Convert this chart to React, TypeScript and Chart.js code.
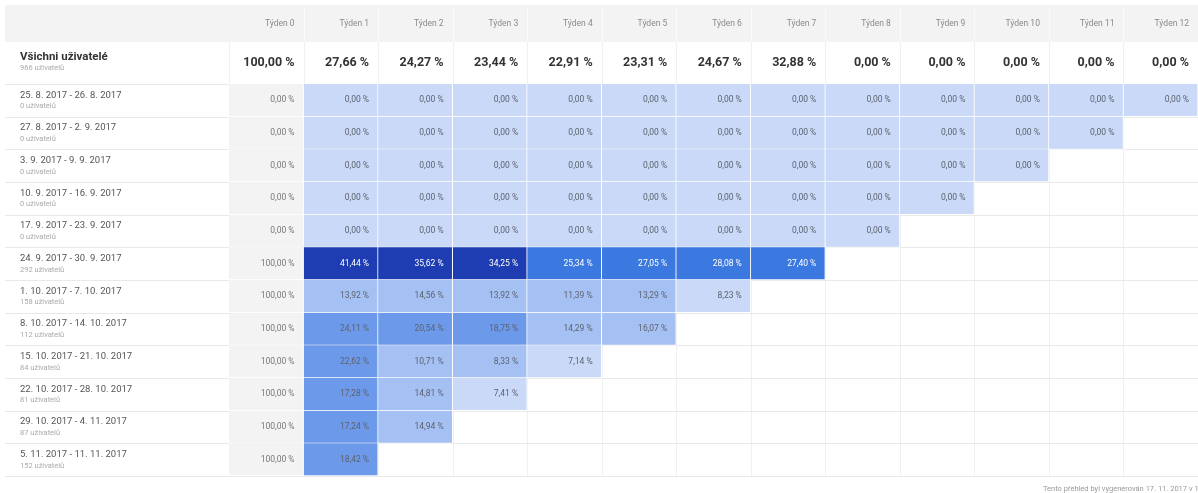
import React, { useEffect, useRef } from 'react';
import { Chart, registerables } from 'chart.js';

Chart.register(...registerables);

const WEEK_LABELS = ['Týden 0', 'Týden 1', 'Týden 2', 'Týden 3', 'Týden 4', 'Týden 5', 'Týden 6', 'Týden 7', 'Týden 8', 'Týden 9', 'Týden 10', 'Týden 11', 'Týden 12'];

const ALL_LABEL = 'Všichni uživatelé';
const ALL_USERS = '966 uživatelů';
const ALL_VALUES = [100, 27.66, 24.27, 23.44, 22.91, 23.31, 24.67, 32.88, 0, 0, 0, 0, 0];

const COHORT_LABELS = [
  '25. 8. 2017 - 26. 8. 2017',
  '27. 8. 2017 - 2. 9. 2017',
  '3. 9. 2017 - 9. 9. 2017',
  '10. 9. 2017 - 16. 9. 2017',
  '17. 9. 2017 - 23. 9. 2017',
  '24. 9. 2017 - 30. 9. 2017',
  '1. 10. 2017 - 7. 10. 2017',
  '8. 10. 2017 - 14. 10. 2017',
  '15. 10. 2017 - 21. 10. 2017',
  '22. 10. 2017 - 28. 10. 2017',
  '29. 10. 2017 - 4. 11. 2017',
  '5. 11. 2017 - 11. 11. 2017',
];

const COHORT_USERS = [
  '0 uživatelů',
  '0 uživatelů',
  '0 uživatelů',
  '0 uživatelů',
  '0 uživatelů',
  '292 uživatelů',
  '158 uživatelů',
  '112 uživatelů',
  '84 uživatelů',
  '81 uživatelů',
  '87 uživatelů',
  '152 uživatelů',
];

const COHORT_VALUES: number[][] = [
  [0, 0, 0, 0, 0, 0, 0, 0, 0, 0, 0, 0, 0],
  [0, 0, 0, 0, 0, 0, 0, 0, 0, 0, 0, 0],
  [0, 0, 0, 0, 0, 0, 0, 0, 0, 0, 0],
  [0, 0, 0, 0, 0, 0, 0, 0, 0, 0],
  [0, 0, 0, 0, 0, 0, 0, 0, 0],
  [100, 41.44, 35.62, 34.25, 25.34, 27.05, 28.08, 27.4],
  [100, 13.92, 14.56, 13.92, 11.39, 13.29, 8.23],
  [100, 24.11, 20.54, 18.75, 14.29, 16.07],
  [100, 22.62, 10.71, 8.33, 7.14],
  [100, 17.28, 14.81, 7.41],
  [100, 17.24, 14.94],
  [100, 18.42],
];

const FOOTER = 'Tento přehled byl vygenerován 17. 11. 2017 v 10:24:31';

const FONT = 'Roboto, "Liberation Sans", Arial, sans-serif';

function fmt(v: number): string {
  return v.toFixed(2).replace('.', ',') + ' %';
}

function cellColor(week: number, v: number): string {
  if (week === 0) return '#f3f3f3';
  if (v >= 34) return '#1f3db2';
  if (v >= 25) return '#3b79e1';
  if (v >= 17) return '#6c99e9';
  if (v >= 8.3) return '#a5c0f2';
  return '#cad9f7';
}

function textColor(week: number, v: number): string {
  if (week === 0) return '#777777';
  if (v >= 25) return '#ffffff';
  return '#5c6370';
}

const tablePlugin = {
  id: 'cohortTable',
  beforeDraw(chart: any) {
    const { ctx, chartArea, scales } = chart;
    const xs = scales.x;
    const ys = scales.y;
    const n = COHORT_LABELS.length;
    const rowH = (chartArea.bottom - chartArea.top) / n;
    ctx.save();
    // header band
    ctx.fillStyle = '#f3f3f3';
    ctx.fillRect(5, 5, chart.width - 5, 37);
    // header column separators
    ctx.strokeStyle = '#fafafa';
    ctx.lineWidth = 1;
    for (let w = 1; w < WEEK_LABELS.length; w++) {
      const px = Math.round(xs.getPixelForValue(w - 0.5)) + 0.5;
      ctx.beginPath();
      ctx.moveTo(px, 8);
      ctx.lineTo(px, 42);
      ctx.stroke();
    }
    // body column separators
    ctx.strokeStyle = '#f0f0f0';
    for (let w = 0; w <= WEEK_LABELS.length; w++) {
      const px = Math.round(xs.getPixelForValue(w - 0.5)) + 0.5;
      ctx.beginPath();
      ctx.moveTo(px, 42);
      ctx.lineTo(px, chartArea.bottom);
      ctx.stroke();
    }
    // row separators
    ctx.strokeStyle = '#e9e9e9';
    for (let i = 0; i <= n; i++) {
      const py = Math.round(ys.getPixelForValue(Math.min(i, n - 1)) + (i === n ? rowH / 2 : -rowH / 2)) + 0.5;
      ctx.beginPath();
      ctx.moveTo(5, py);
      ctx.lineTo(chart.width, py);
      ctx.stroke();
    }
    ctx.restore();
  },
  afterDatasetsDraw(chart: any) {
    const { ctx, chartArea, scales } = chart;
    const xs = scales.x;
    const ys = scales.y;
    ctx.save();
    ctx.textBaseline = 'middle';
    // header texts
    ctx.textAlign = 'right';
    ctx.fillStyle = '#8a8a8a';
    ctx.font = `8.5px ${FONT}`;
    WEEK_LABELS.forEach((lab, w) => {
      ctx.fillText(lab, xs.getPixelForValue(w + 0.5) - 9, 24);
    });
    // all users row
    ctx.fillStyle = '#333333';
    ctx.font = `bold 12.5px ${FONT}`;
    ALL_VALUES.forEach((v, w) => {
      ctx.fillText(fmt(v), xs.getPixelForValue(w + 0.5) - 9, 63);
    });
    ctx.textAlign = 'left';
    ctx.font = `bold 11.5px ${FONT}`;
    ctx.fillText(ALL_LABEL, 20, 57);
    ctx.fillStyle = '#aaaaaa';
    ctx.font = `7.5px ${FONT}`;
    ctx.fillText(ALL_USERS, 20, 68);
    // cohort sub labels
    COHORT_USERS.forEach((u, i) => {
      ctx.fillText(u, 20, ys.getPixelForValue(i) + 6);
    });
    // cell values
    ctx.textAlign = 'right';
    ctx.font = `8.5px ${FONT}`;
    WEEK_LABELS.forEach((_, w) => {
      const meta = chart.getDatasetMeta(w);
      meta.data.forEach((bar: any, r: number) => {
        const row = COHORT_VALUES[r];
        if (w >= row.length) return;
        const v = row[w];
        const right = Math.max(bar.x, bar.base);
        ctx.fillStyle = textColor(w, v);
        ctx.fillText(fmt(v), right - 9, bar.y);
      });
    });
    // footer
    ctx.textAlign = 'left';
    ctx.fillStyle = '#9a9a9a';
    ctx.font = `7.5px ${FONT}`;
    ctx.fillText(FOOTER, 1043, chartArea.bottom + 13);
    ctx.restore();
  },
};

export default function App() {
  const canvasRef = useRef<HTMLCanvasElement | null>(null);

  useEffect(() => {
    document.body.style.margin = '0';
    const canvas = canvasRef.current;
    if (!canvas) return;
    const chart = new Chart(canvas, {
      type: 'bar',
      data: {
        labels: COHORT_LABELS,
        datasets: WEEK_LABELS.map((label, w) => ({
          label,
          data: COHORT_VALUES.map((row) => (w < row.length ? [w - 0.5, w + 0.5] : null)) as any,
          backgroundColor: (c: any) => {
            const row = COHORT_VALUES[c.dataIndex] || [];
            return cellColor(w, row[w] ?? 0);
          },
          borderColor: '#ffffff',
          borderWidth: { top: 0, left: 0, right: 1, bottom: 1 },
          borderSkipped: false,
          grouped: false,
          barPercentage: 1,
          categoryPercentage: 1,
        })),
      },
      options: {
        indexAxis: 'y',
        responsive: false,
        animation: false,
        events: [],
        layout: { padding: { left: 20, right: 0, top: 84, bottom: 17 } },
        plugins: {
          legend: { display: false },
          tooltip: { enabled: false },
        },
        scales: {
          x: {
            type: 'linear',
            min: -0.5,
            max: 12.5,
            display: false,
          },
          y: {
            type: 'category',
            position: 'left',
            grid: { display: false },
            border: { display: false },
            afterFit: (scale: any) => {
              scale.width = 209;
            },
            ticks: {
              crossAlign: 'far',
              labelOffset: -5,
              padding: 0,
              color: '#555555',
              font: { family: FONT, size: 9.5 },
            },
          },
        },
      },
      plugins: [tablePlugin],
    } as any);
    return () => chart.destroy();
  }, []);

  return <canvas ref={canvasRef} width={1198} height={493} style={{ display: 'block' }} />;
}
